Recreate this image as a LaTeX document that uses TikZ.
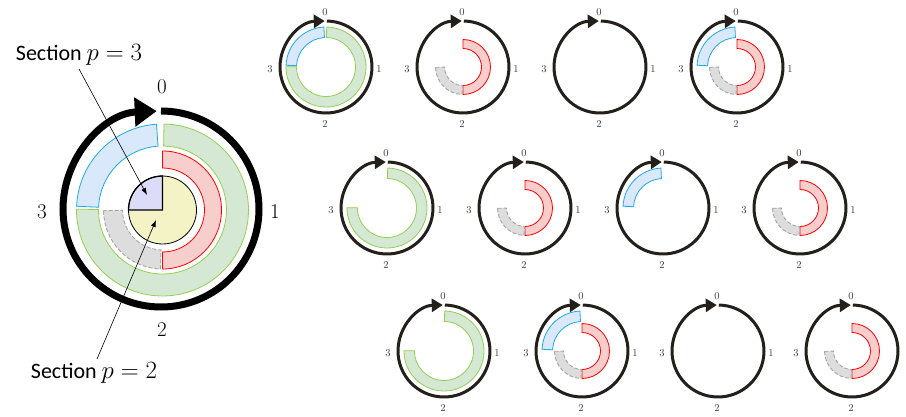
\documentclass[tikz,border=0pt]{standalone}
\usepackage{fontspec}
\usepackage{tikz}
\usetikzlibrary{arrows.meta,positioning,calc}
\newfontfamily\seclabelfont{Carlito}
\definecolor{ringblk}{RGB}{35,31,26}
\definecolor{grnfill}{RGB}{213,232,212}
\definecolor{grnline}{RGB}{146,208,80}
\definecolor{blufill}{RGB}{218,232,252}
\definecolor{bluline}{RGB}{27,170,230}
\definecolor{redfill}{RGB}{248,206,204}
\definecolor{redline}{RGB}{255,0,0}
\definecolor{gryfill}{RGB}{221,221,221}
\definecolor{gryline}{RGB}{165,165,165}
\definecolor{pieyel}{RGB}{243,243,198}
\definecolor{piepur}{RGB}{220,220,248}
\tikzset{
  grnseg/.style={draw=grnline, fill=grnfill, line width=0.8pt},
  bluseg/.style={draw=bluline, fill=blufill, line width=0.8pt},
  redseg/.style={draw=redline, fill=redfill, line width=0.8pt},
  gryseg/.style={draw=gryline, fill=gryfill, line width=0.9pt, dash pattern=on 4pt off 2pt},
  bigring/.style={black, line width=7pt, -{Triangle[length=22pt,width=28pt]}},
  smallring/.style={ringblk, line width=3pt, -{Triangle[length=11pt,width=13pt]}},
  numbig/.style={font=\fontsize{21}{25}\selectfont},
  numsmall/.style={font=\fontsize{10.5}{12}\selectfont, text=black!78},
  seclabel/.style={font=\seclabelfont\fontsize{22}{26}\selectfont},
  pointer/.style={-{Latex[length=7pt,width=5pt]}, line width=0.6pt},
}
% annular segment: style, centre, from, to, inner r, outer r
\newcommand{\ringseg}[6]{%
  \draw[#1, shift={(#2)}] (#3:#6) arc[start angle=#3, end angle=#4, radius=#6]
    -- (#4:#5) arc[start angle=#4, end angle=#3, radius=#5] -- cycle;}
\newcommand{\secmath}[1]{{\fontsize{25}{28}\selectfont$#1$}}

\begin{document}
\begin{tikzpicture}[x=1pt,y=1pt]
  \useasboundingbox (0,0) rectangle (906,-417);

  % large dial
  \coordinate (bigring) at (161,-209);
  \coordinate (big) at (162.5,-210);
  \draw[bigring, shift={(bigring)}] (90:98pt) arc[start angle=90, end angle=-267.5, radius=98pt];
  \ringseg{grnseg}{big}{89}{-180.5}{64pt}{86pt}
  \ringseg{bluseg}{big}{94}{177.5}{64pt}{86pt}
  \ringseg{redseg}{big}{90}{-90}{42pt}{59pt}
  \ringseg{gryseg}{big}{180.5}{268}{40pt}{59pt}
  \fill[pieyel] (big) circle[radius=34pt];
  \filldraw[fill=piepur, line width=1.3pt] (big) -- ++(90:34pt)
    arc[start angle=90, end angle=180, radius=34pt] -- cycle;
  \draw[line width=0.8pt] (big) circle[radius=34pt];
  \node[numbig] (big-0) at (162,-87) {0};
  \node[numbig] (big-1) at (275,-212) {1};
  \node[numbig] (big-2) at (162,-330) {2};
  \node[numbig] (big-3) at (42,-212) {3};

  \node[seclabel] (sec3) at (79,-55) {Section \secmath{p=3}};
  \node[seclabel] (sec2) at (94,-373) {Section \secmath{p=2}};
  \coordinate (p3tip) at (147,-195);
  \coordinate (p2tip) at (156,-220);
  \draw[pointer] (sec3.south) -- (p3tip);
  \draw[pointer] ([xshift=3pt]sec2.north) -- (p2tip);

  % small dials
  \foreach \nm/\cx/\cy in {d11/326/67, d12/463/67, d13/600/67, d14/737/67,
      d21/387/208, d22/525/208, d23/663/208, d24/800/208,
      d31/444/351, d32/582/351, d33/718/351, d34/852/351} {
    \coordinate (\nm) at (\cx,-\cy);
    \draw[smallring, shift={(\nm)}] (89:46pt) arc[start angle=89, end angle=-268.5, radius=46pt];
    \node[numsmall] (\nm-0) at ($(\nm)+(-1,55)$) {0};
    \node[numsmall] (\nm-2) at ($(\nm)+(-1,-57)$) {2};
    \node[numsmall] (\nm-3) at ($(\nm)+(-56,-2)$) {3};
  }
  % label 1 falls off the page on the last dial
  \foreach \nm in {d11,d12,d13,d14,d21,d22,d23,d24,d31,d32,d33}
    \node[numsmall] (\nm-1) at ($(\nm)+(53,-2)$) {1};

  \ringseg{grnseg}{d11}{89}{-180.5}{29.5pt}{40pt}
  \ringseg{bluseg}{d11}{93}{177.5}{29.5pt}{40pt}
  \ringseg{redseg}{d12}{90}{-90}{18.5pt}{27.5pt}
  \ringseg{gryseg}{d12}{180.5}{268}{18.5pt}{27.5pt}
  \ringseg{bluseg}{d14}{93}{177.5}{29.5pt}{40pt}
  \ringseg{redseg}{d14}{90}{-90}{18.5pt}{27.5pt}
  \ringseg{gryseg}{d14}{180.5}{268}{18.5pt}{27.5pt}
  \ringseg{grnseg}{d21}{89}{-180.5}{29.5pt}{40pt}
  \ringseg{redseg}{d22}{90}{-90}{18.5pt}{27.5pt}
  \ringseg{gryseg}{d22}{180.5}{268}{18.5pt}{27.5pt}
  \ringseg{bluseg}{d23}{93}{177.5}{29.5pt}{40pt}
  \ringseg{redseg}{d24}{90}{-90}{18.5pt}{27.5pt}
  \ringseg{gryseg}{d24}{180.5}{268}{18.5pt}{27.5pt}
  \ringseg{grnseg}{d31}{89}{-180.5}{29.5pt}{40pt}
  \ringseg{bluseg}{d32}{93}{177.5}{29.5pt}{40pt}
  \ringseg{redseg}{d32}{90}{-90}{18.5pt}{27.5pt}
  \ringseg{gryseg}{d32}{180.5}{268}{18.5pt}{27.5pt}
  \ringseg{redseg}{d34}{90}{-90}{18.5pt}{27.5pt}
  \ringseg{gryseg}{d34}{180.5}{268}{18.5pt}{27.5pt}
\end{tikzpicture}
\end{document}
